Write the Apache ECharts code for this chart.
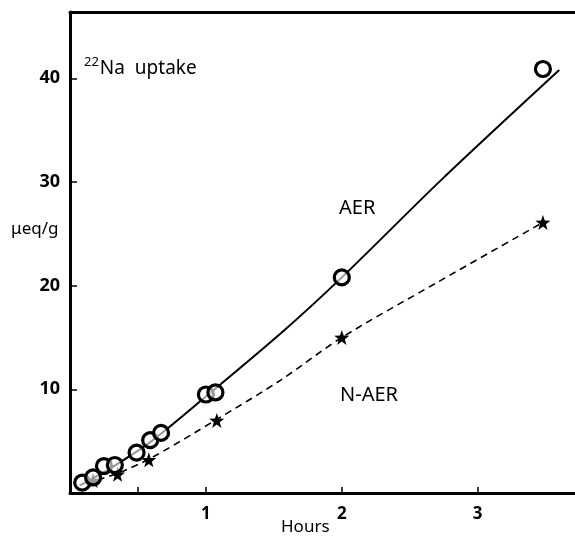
<!DOCTYPE html>
<html>
<head>
    <meta charset="utf-8">
    <title>22Na uptake</title>
    <script src="https://cdn.jsdelivr.net/npm/echarts@6/dist/echarts.min.js"></script>
    <style>
        html, body { margin: 0; padding: 0; background: #fff; }
    </style>
</head>
<body>
    <div id="main" style="width: 575px;height:541px;"></div>
    <script type="text/javascript">
        var chartDom = document.getElementById('main');
        var myChart = echarts.init(chartDom);
        var option;

        // measured points
        var aerHours = [0.09, 0.17, 0.25, 0.33, 0.49, 0.59, 0.67, 1.0, 1.07, 2.0, 3.48];
        var aerValues = [1.0, 1.5, 2.6, 2.7, 3.9, 5.1, 5.8, 9.5, 9.7, 20.8, 40.9];
        var naerHours = [0.17, 0.35, 0.58, 1.08, 2.0, 3.48];
        var naerValues = [1.2, 1.8, 3.2, 7.0, 15.0, 26.1];

        // drawn curves
        var aerCurveHours = [0.07, 0.3, 0.6, 1.0, 1.56, 2.0, 2.74, 3.6];
        var aerCurveValues = [0.7, 2.4, 5.0, 9.3, 15.5, 20.8, 30.3, 40.8];
        var naerCurveHours = [0.12, 0.35, 0.6, 1.08, 1.54, 2.0, 2.7, 3.48];
        var naerCurveValues = [0.9, 1.9, 3.4, 7.1, 10.8, 15.0, 20.3, 26.1];

        var xTicks = [0.5, 1, 2, 3];
        var xLabels = [1, 2, 3];
        var yTicks = [10, 20, 30, 40];

        function pairs(xs, ys) {
            return xs.map(function (x, i) { return [x, ys[i]]; });
        }

        var starPath = 'path://M0,-10L2.35,-3.24L9.51,-3.09L3.8,1.24L5.88,8.09L0,4L-5.88,8.09L-3.8,1.24L-9.51,-3.09L-2.35,-3.24Z';
        var font = 'Noto Sans';

        option = {
            animation: false,
            grid: { left: 70, right: 0, top: 12, bottom: 48 },
            xAxis: [{
                type: 'value',
                min: 0,
                max: 3.716,
                axisLine: { lineStyle: { color: '#000', width: 3 } },
                axisTick: {
                    inside: true, length: 6, customValues: xTicks,
                    lineStyle: { color: '#000', width: 1.5 }
                },
                axisLabel: {
                    customValues: xLabels, margin: 13,
                    color: '#000', fontSize: 17, fontWeight: 'bold', fontFamily: font
                },
                splitLine: { show: false }
            }, {
                type: 'value',
                position: 'top',
                min: 0,
                max: 3.716,
                axisLine: { show: true, lineStyle: { color: '#000', width: 3 } },
                axisTick: { show: false },
                axisLabel: { show: false },
                splitLine: { show: false }
            }],
            yAxis: {
                type: 'value',
                min: 0,
                max: 46.4,
                axisLine: { show: true, lineStyle: { color: '#000', width: 3 } },
                axisTick: {
                    show: true, inside: true, length: 7, customValues: yTicks,
                    lineStyle: { color: '#000', width: 1.5 }
                },
                axisLabel: {
                    customValues: yTicks, margin: 10,
                    color: '#000', fontSize: 18, fontWeight: 'bold', fontFamily: font
                },
                splitLine: { show: false }
            },
            graphic: [{
                type: 'text',
                left: 84,
                top: 56,
                style: {
                    text: '{sup|22}{b|Na  uptake}',
                    rich: {
                        sup: { fontSize: 13, fontFamily: font, fill: '#000', verticalAlign: 'top', padding: [0, 1, 12, 0] },
                        b: { fontSize: 19, fontFamily: font, fill: '#000' }
                    }
                }
            }, {
                type: 'text', left: 339, top: 198,
                style: { text: 'AER', fontSize: 20, fontFamily: font, fill: '#000' }
            }, {
                type: 'text', left: 340, top: 385,
                style: { text: 'N-AER', fontSize: 20, fontFamily: font, fill: '#000' }
            }, {
                type: 'text', left: 11, top: 221,
                style: { text: 'μeq/g', fontSize: 17, fontFamily: font, fill: '#000' }
            }, {
                type: 'text', left: 281, top: 519,
                style: { text: 'Hours', fontSize: 17, fontFamily: font, fill: '#000' }
            }],
            series: [{
                type: 'line',
                data: pairs(aerCurveHours, aerCurveValues),
                smooth: 0.3,
                showSymbol: false,
                lineStyle: { color: '#000', width: 2 },
                z: 2
            }, {
                type: 'line',
                data: pairs(naerCurveHours, naerCurveValues),
                smooth: 0.3,
                showSymbol: false,
                lineStyle: { color: '#000', width: 1.6, type: [7, 5] },
                z: 2
            }, {
                type: 'scatter',
                data: pairs(naerHours, naerValues),
                symbol: starPath,
                symbolSize: 15,
                itemStyle: { color: '#000', opacity: 1 },
                z: 3
            }, {
                type: 'scatter',
                data: pairs(aerHours, aerValues),
                symbol: 'circle',
                symbolSize: 15,
                itemStyle: { color: 'rgba(255,255,255,0.6)', borderColor: '#000', borderWidth: 3.2, opacity: 1 },
                z: 4
            }]
        };

        option && myChart.setOption(option);
    </script>
</body>
</html>
